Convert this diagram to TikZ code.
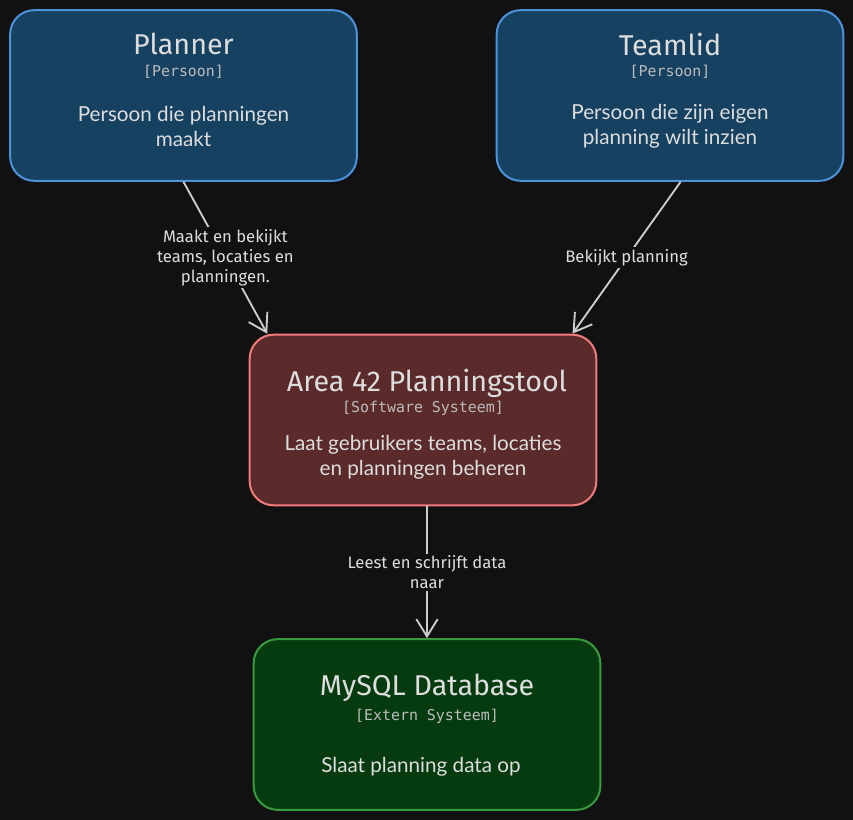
\documentclass[tikz,border=0pt]{standalone}
\usepackage{fontspec}
\setmainfont{Lato}
\newfontfamily\handfont{Fira Sans}
\newfontfamily\typefont{DejaVu Sans Mono}
\usetikzlibrary{arrows.meta}
\definecolor{bgcol}{HTML}{111111}
\definecolor{txtcol}{HTML}{DDDDDD}
\definecolor{linecol}{HTML}{CCCCCC}
\definecolor{personfill}{HTML}{164161}
\definecolor{persondraw}{HTML}{4C93DB}
\definecolor{sysfill}{HTML}{5B2B2C}
\definecolor{sysdraw}{HTML}{F27C7C}
\definecolor{extfill}{HTML}{053B0E}
\definecolor{extdraw}{HTML}{3A9A40}
\tikzset{every picture/.style={line width=0.75pt}}
\tikzset{
  c4box/.style={rectangle, rounded corners=18pt, line width=1.5pt, minimum width=260pt, minimum height=128pt},
  personbox/.style={c4box, draw=persondraw, fill=personfill},
  sysbox/.style={c4box, draw=sysdraw, fill=sysfill},
  extbox/.style={c4box, draw=extdraw, fill=extfill},
  titletext/.style={text=txtcol, inner sep=0.75pt, font=\handfont\fontsize{21.5}{24}\selectfont},
  typetext/.style={text=txtcol!85!black, inner sep=0.75pt, font=\typefont\fontsize{11.2}{13}\selectfont},
  desctext/.style={text=txtcol, inner sep=0.75pt, align=center, font=\fontsize{15.5}{18.75}\selectfont},
  relline/.style={draw=linecol, line width=1.4pt, -{Straight Barb[length=13pt,width=16pt,line width=1.4pt]}},
  rellabel/.style={fill=bgcol, text=txtcol, inner sep=1.5pt, align=center, font=\handfont\fontsize{12.5}{15}\selectfont}
}

\begin{document}
\begin{tikzpicture}[x=0.75pt,y=0.75pt,yscale=-1,xscale=1]
%background
\fill[bgcol] (0,0) rectangle (853,820);
\useasboundingbox (0,0) rectangle (853,820);

%Shape: Person [id:planner]
\node[personbox] (planner) at (183.5,95.5) {};
%Shape: Person [id:teamlid]
\node[personbox] (teamlid) at (670,95.5) {};
%Shape: Software System [id:area]
\node[sysbox] (area) at (423,420) {};
%Shape: External System [id:mysql]
\node[extbox] (mysql) at (427,724.5) {};

% Text Node
\node[titletext] (plannertitle) at (183.5,44) {Planner};
\node[typetext] (plannertype) at (183.5,72) {[Persoon]};
\node[desctext] (plannerdesc) at (183.5,126) {Persoon die planningen\\maakt};
% Text Node
\node[titletext] (teamlidtitle) at (670,44) {Teamlid};
\node[typetext] (teamlidtype) at (670,72) {[Persoon]};
\node[desctext] (teamliddesc) at (670,126) {Persoon die zijn eigen\\planning wilt inzien};
% Text Node
\node[titletext] (areatitle) at (427,383) {Area 42 Planningstool};
\node[typetext] (areatype) at (423,408) {[Software Systeem]};
\node[desctext] (areadesc) at (423,457) {Laat gebruikers teams, locaties\\en planningen beheren};
% Text Node
\node[titletext] (mysqltitle) at (427,688) {MySQL Database};
\node[typetext] (mysqltype) at (427,716) {[Extern Systeem]};
\node[desctext] (mysqldesc) at (421,767) {Slaat planning data op};

%Relations
\draw[relline] (planner.south) -- (area.151) node[rellabel, pos=0.5] {Maakt en bekijkt\\teams, locaties en\\planningen.};
\draw[relline] (teamlid.-83) -- (area.30.3) node[rellabel, pos=0.5] {Bekijkt planning};
\draw[relline] (area.south -| mysql.north) -- (mysql.north) node[rellabel, pos=0.5] {Leest en schrijft data\\naar};
\end{tikzpicture}
\end{document}
